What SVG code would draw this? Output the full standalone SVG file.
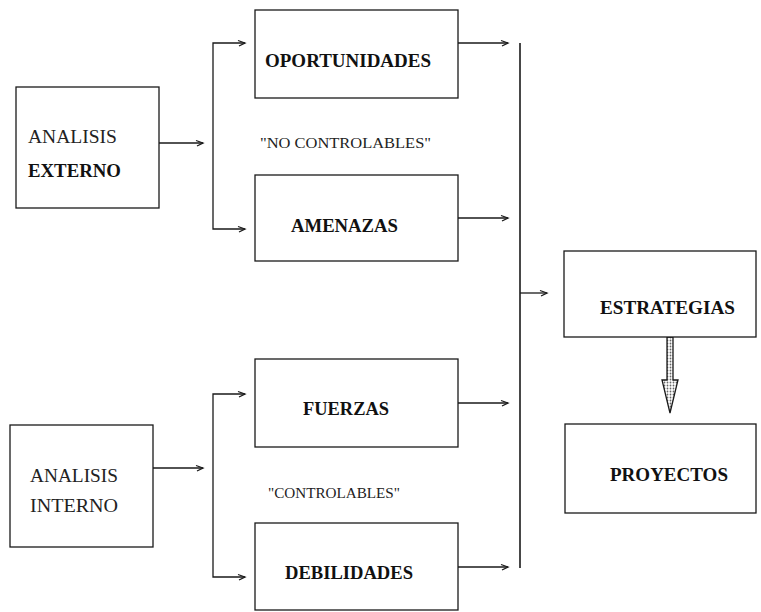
<svg xmlns="http://www.w3.org/2000/svg" width="761" height="612" viewBox="0 0 761 612">
<style>
.box{fill:#fff;stroke:#1a1a1a;stroke-width:1.3}
.b{font-family:"Liberation Serif","Times New Roman",serif;font-weight:bold;font-size:19px;fill:#111}
.r{font-family:"Liberation Serif","Times New Roman",serif;font-size:18px;fill:#222}
.s{font-family:"Liberation Serif","Times New Roman",serif;font-size:14px;fill:#222}
.c{fill:none;stroke:#1a1a1a;stroke-width:1.3}
</style>
<defs>
<marker id="ah" markerWidth="10" markerHeight="10" refX="8" refY="4" orient="auto" markerUnits="userSpaceOnUse">
<polyline points="1,1.5 8,4 2,7" fill="none" stroke="#1a1a1a" stroke-width="1.3"/>
</marker>
<pattern id="dots" width="3" height="3" patternUnits="userSpaceOnUse">
<rect width="3" height="3" fill="#fff"/>
<circle cx="1.5" cy="1.5" r="0.9" fill="#666"/>
</pattern>
</defs>
<rect width="761" height="612" fill="#fff"/>
<g id="connectors">
<path class="c" d="M159,143 H203" marker-end="url(#ah)"/>
<path class="c" d="M213,136 V43 H245" marker-end="url(#ah)"/>
<path class="c" d="M213,136 V229 H245" marker-end="url(#ah)"/>
<path class="c" d="M458,43 H508" marker-end="url(#ah)"/>
<path class="c" d="M458,218 H508" marker-end="url(#ah)"/>
<path class="c" d="M520,43 V568" style="stroke-width:1.6"/>
<path class="c" d="M520,293 H547" marker-end="url(#ah)"/>
<path class="c" d="M153,468 H203" marker-end="url(#ah)"/>
<path class="c" d="M213,480 V394 H245" marker-end="url(#ah)"/>
<path class="c" d="M213,480 V577 H245" marker-end="url(#ah)"/>
<path class="c" d="M458,403 H508" marker-end="url(#ah)"/>
<path class="c" d="M458,567 H508" marker-end="url(#ah)"/>
<path d="M667,337 H673 V380 H678 L670,413 L662,380 H667 Z" fill="url(#dots)" stroke="#1a1a1a" stroke-width="1.3"/>
</g>
<g id="analisis-externo">
<rect class="box" x="16" y="87" width="143" height="121"/>
<text class="r" x="28" y="143" textLength="89" lengthAdjust="spacingAndGlyphs">ANALISIS</text>
<text class="b" x="28" y="177" textLength="93" lengthAdjust="spacingAndGlyphs">EXTERNO</text>
</g>
<g id="oportunidades">
<rect class="box" x="255" y="10" width="203" height="88"/>
<text class="b" x="265" y="67" textLength="166" lengthAdjust="spacingAndGlyphs">OPORTUNIDADES</text>
</g>
<g id="no-controlables">
<text class="s" x="260" y="148" textLength="171" lengthAdjust="spacingAndGlyphs">"NO CONTROLABLES"</text>
</g>
<g id="amenazas">
<rect class="box" x="255" y="175" width="203" height="86"/>
<text class="b" x="291" y="232" textLength="107" lengthAdjust="spacingAndGlyphs">AMENAZAS</text>
</g>
<g id="analisis-interno">
<rect class="box" x="10" y="425" width="143" height="122"/>
<text class="r" x="30" y="482" textLength="88" lengthAdjust="spacingAndGlyphs">ANALISIS</text>
<text class="r" x="30" y="512" textLength="88" lengthAdjust="spacingAndGlyphs">INTERNO</text>
</g>
<g id="fuerzas">
<rect class="box" x="255" y="359" width="203" height="88"/>
<text class="b" x="303" y="415" textLength="86" lengthAdjust="spacingAndGlyphs">FUERZAS</text>
</g>
<g id="controlables">
<text class="s" x="268" y="498" textLength="132" lengthAdjust="spacingAndGlyphs">"CONTROLABLES"</text>
</g>
<g id="debilidades">
<rect class="box" x="255" y="523" width="203" height="87"/>
<text class="b" x="285" y="579" textLength="128" lengthAdjust="spacingAndGlyphs">DEBILIDADES</text>
</g>
<g id="estrategias">
<rect class="box" x="564" y="251" width="192" height="86"/>
<text class="b" x="600" y="314" textLength="135" lengthAdjust="spacingAndGlyphs">ESTRATEGIAS</text>
</g>
<g id="proyectos">
<rect class="box" x="565" y="424" width="191" height="89"/>
<text class="b" x="610" y="481" textLength="118" lengthAdjust="spacingAndGlyphs">PROYECTOS</text>
</g>
</svg>
